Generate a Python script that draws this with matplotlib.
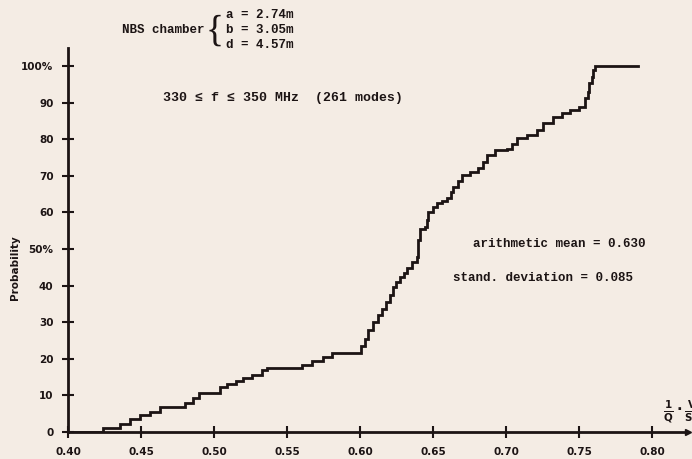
import matplotlib
matplotlib.use("Agg")
import matplotlib.pyplot as plt

# Step points of the cumulative distribution (x value where level jumps, new level in %)
x_steps = [0.400, 0.424, 0.4356, 0.4425, 0.4493, 0.4562, 0.463, 0.4801, 0.4858, 0.4899,
           0.5041, 0.5087, 0.5150, 0.5196, 0.5258, 0.5327, 0.536, 0.560, 0.5669, 0.5749,
           0.5806, 0.601, 0.6035, 0.6057, 0.609, 0.6125, 0.6150, 0.618, 0.6205, 0.6228,
           0.6250, 0.6274, 0.6300, 0.632, 0.6353, 0.6388, 0.6395, 0.6399, 0.641, 0.6445,
           0.6460, 0.6468, 0.6500, 0.6525, 0.6560, 0.6594, 0.6620, 0.664, 0.6670, 0.6696,
           0.6753, 0.681, 0.6840, 0.6867, 0.6925, 0.7004, 0.7040, 0.7073, 0.7142, 0.721,
           0.7256, 0.7324, 0.7381, 0.7438, 0.7502, 0.7541, 0.7560, 0.7571, 0.7590, 0.7598,
           0.761, 0.7906]
p_steps = [0.0, 1.2, 2.1, 3.5, 4.6, 5.6, 6.9, 8.0, 9.2, 10.7,
           12.2, 13.0, 13.9, 14.7, 15.6, 16.9, 17.4, 18.3, 19.4, 20.6,
           21.7, 23.5, 25.5, 27.9, 30.1, 32.0, 33.5, 35.6, 37.5, 39.7,
           41.0, 42.4, 43.5, 44.7, 46.5, 47.9, 50.0, 52.5, 55.6, 56.1,
           58.0, 60.2, 61.5, 62.5, 63.2, 63.8, 65.5, 67.0, 68.5, 70.2,
           71.1, 72.0, 73.8, 75.7, 77.0, 77.2, 78.8, 80.2, 81.1, 82.5,
           84.3, 86.2, 87.1, 88.0, 88.9, 91.2, 93.0, 95.3, 97.0, 98.9,
           100.0, 100.0]

x_ticks = [0.40, 0.45, 0.50, 0.55, 0.60, 0.65, 0.70, 0.75, 0.80]
x_ticklabels = ["0.40", "0.45", "0.50", "0.55", "0.60", "0.65", "0.70", "0.75", "0.80"]
y_ticks = [0, 10, 20, 30, 40, 50, 60, 70, 80, 90, 100]
y_ticklabels = ["0", "10", "20", "30", "40", "50%", "60", "70", "80", "90", "100%"]

bg = "#f4ece4"
ink = "#1c1414"

fig = plt.figure(figsize=(6.92, 4.59), dpi=100, facecolor=bg)
ax = fig.add_axes([68 / 692, 27 / 459, 620 / 692, 384 / 459])
ax.set_facecolor(bg)

ax.step(x_steps, p_steps, where="post", color=ink, lw=2.0, solid_joinstyle="miter")

ax.set_xlim(0.40, 0.40 + 620 / 1460)
ax.set_ylim(0, 384 / 3.66)

for s in ["top", "right"]:
    ax.spines[s].set_visible(False)
for s in ["left", "bottom"]:
    ax.spines[s].set_linewidth(2.0)
    ax.spines[s].set_color(ink)

ax.set_xticks(x_ticks)
ax.set_xticklabels(x_ticklabels)
ax.set_yticks(y_ticks)
ax.set_yticklabels(y_ticklabels)
ax.tick_params(direction="inout", length=9, width=1.5, color=ink,
               labelsize=7.5, labelcolor=ink)
ax.tick_params(axis="x", pad=6)
ax.tick_params(axis="y", pad=6)
for lbl in ax.get_xticklabels() + ax.get_yticklabels():
    lbl.set_fontweight("bold")

# arrow at end of x axis
ax.plot(1, 0, ">", color=ink, ms=5, transform=ax.get_yaxis_transform(), clip_on=False)

mono = "Liberation Mono"
fig.text(15 / 692, 1 - 268 / 459, "Probability", rotation=90, fontsize=7.5,
         fontweight="bold", family="DejaVu Sans", color=ink, va="center", ha="center")

fig.text(122 / 692, 1 - 30 / 459, "NBS chamber", fontsize=9, family=mono,
         fontweight="bold", color=ink, va="center", ha="left")
fig.text(224 / 692, 1 - 31 / 459, "{", fontsize=27, family="Liberation Serif",
         color=ink, va="center", ha="right")
fig.text(226 / 692, 1 - 15 / 459, "a = 2.74m", fontsize=9, family=mono,
         fontweight="bold", color=ink, va="center", ha="left")
fig.text(226 / 692, 1 - 30 / 459, "b = 3.05m", fontsize=9, family=mono,
         fontweight="bold", color=ink, va="center", ha="left")
fig.text(226 / 692, 1 - 45 / 459, "d = 4.57m", fontsize=9, family=mono,
         fontweight="bold", color=ink, va="center", ha="left")

fig.text(163 / 692, 1 - 98 / 459, "330 \u2264 f \u2264 350 MHz  (261 modes)", fontsize=9.5,
         family=mono, fontweight="bold", color=ink, va="center", ha="left")

fig.text(473 / 692, 1 - 244 / 459, "arithmetic mean = 0.630", fontsize=9,
         family=mono, fontweight="bold", color=ink, va="center", ha="left")
fig.text(453 / 692, 1 - 278 / 459, "stand. deviation = 0.085", fontsize=9,
         family=mono, fontweight="bold", color=ink, va="center", ha="left")

fig.text(663 / 692, 1 - 412 / 459, r"$\mathbf{\frac{1}{Q}\cdot\frac{V}{S\delta}}$",
         fontsize=10.5, color=ink, va="center", ha="left")

fig.savefig("out.png", dpi=100, facecolor=bg)
